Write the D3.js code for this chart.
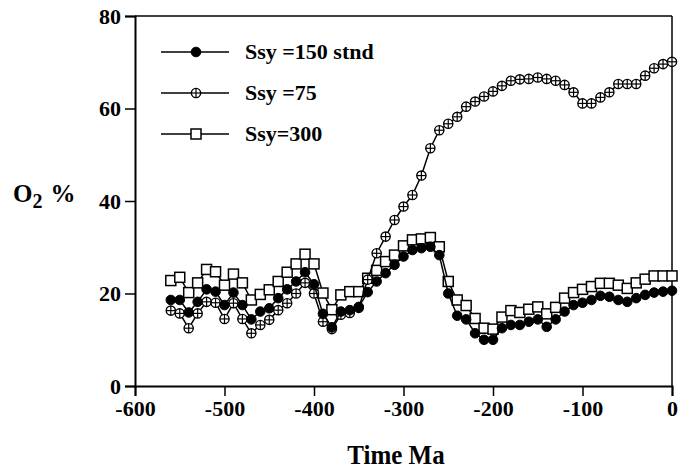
<!DOCTYPE html>
<html>
<head>
<meta charset="utf-8">
<script src="https://cdn.jsdelivr.net/npm/d3@7"></script>
<style>
  html, body { margin: 0; padding: 0; background: #fff; }
  svg { display: block; }
  text { font-family: "Liberation Serif", "Times New Roman", serif; font-weight: bold; fill: #000; }
</style>
</head>
<body>
<svg id="chart" width="689" height="469"></svg>
<script>
// ---- data ----
const time = [-560,-550,-540,-530,-520,-510,-500,-490,-480,-470,-460,-450,-440,-430,-420,-410,-400,-390,-380,-370,-360,
  -350,-340,-330,-320,-310,-300,-290,-280,-270,-260,-250,-240,-230,
  -220,-210,-200,-190,-180,-170,-160,-150,-140,-130,-120,-110,-100,-90,-80,-70,-60,-50,-40,-30,-20,-10,0];

const ssy150 = [18.6,18.6,15.9,18.2,20.9,20.4,17.5,20.2,17.5,14.4,16.1,16.8,19.0,20.9,22.6,24.6,22.0,15.6,12.7,16.1,16.4,
  17.1,20.3,22.6,24.4,26.2,28.0,29.4,29.8,30.1,28.3,20.0,15.2,14.4,
  11.4,10.0,10.0,12.5,13.2,13.2,13.9,14.4,12.8,14.4,16.1,17.5,18.0,18.6,19.5,19.3,18.6,18.2,19.0,19.7,20.2,20.4,20.6];

const ssy75 = [16.3,15.7,12.5,15.7,18.2,18.0,14.5,17.9,14.5,11.4,13.2,14.3,16.4,17.9,20.0,22.3,20.0,13.9,12.3,15.4,15.8,
  16.9,23.0,28.7,32.3,35.9,38.8,41.3,45.5,51.4,55.3,56.7,58.2,60.4,
  61.5,62.6,63.7,64.9,66.0,66.3,66.4,66.7,66.4,66.0,65.1,63.5,61.1,61.1,62.4,63.5,65.3,65.3,65.3,67.1,68.7,69.6,70.1];

const ssy300 = [22.8,23.5,20.2,22.3,25.2,24.7,21.8,24.2,22.3,18.6,19.8,20.8,22.6,24.6,26.4,28.5,26.4,20.1,16.5,19.7,20.4,
  20.4,23.3,25.0,26.9,28.3,30.3,31.6,31.8,32.1,30.1,22.6,18.6,17.4,
  14.6,12.5,12.3,14.9,16.3,15.9,16.6,17.1,15.6,17.0,19.0,20.2,20.9,21.5,22.2,22.2,21.8,21.1,22.3,23.1,23.8,23.8,23.8];

const seriesNames = ["Ssy =150 stnd", "Ssy =75", "Ssy=300"];
const markerTypes = ["filled", "cross", "square"];
const xTicks = [-600,-500,-400,-300,-200,-100,0];
const yTicks = [0,20,40,60,80];
const xTitle = "Time Ma";

// ---- layout ----
const svg = d3.select("#chart");
const x = d3.scaleLinear().domain([-600, 0]).range([135, 672]);
const y = d3.scaleLinear().domain([0, 80]).range([386, 16]);

// frame top/right
svg.append("line").attr("x1", x(-600)).attr("x2", x(0)).attr("y1", y(80)).attr("y2", y(80))
  .attr("stroke", "#000").attr("stroke-width", 1.5);
svg.append("line").attr("x1", x(0)).attr("x2", x(0)).attr("y1", y(80)).attr("y2", y(0))
  .attr("stroke", "#000").attr("stroke-width", 1.5);

// axes
const fmt = d => String(d);
const xAxis = svg.append("g").attr("transform", `translate(0,${y(0)})`)
  .call(d3.axisBottom(x).tickValues(xTicks).tickSize(10).tickPadding(6).tickFormat(fmt));
const yAxis = svg.append("g").attr("transform", `translate(${x(-600)},0)`)
  .call(d3.axisLeft(y).tickValues(yTicks).tickSize(10).tickPadding(4).tickFormat(fmt));
[xAxis, yAxis].forEach(g => {
  g.select(".domain").attr("stroke", "#000").attr("stroke-width", 2);
  g.selectAll(".tick line").attr("stroke", "#000").attr("stroke-width", 1.5);
  g.selectAll("text").style("font-family", '"Liberation Serif", serif').style("font-weight", "bold")
    .style("font-size", "22px").attr("fill", "#000");
});
xAxis.selectAll("text").attr("dy", "0.71em").attr("y", 14);

// titles
svg.append("text").attr("text-anchor", "middle")
  .attr("transform", "translate(396,464) scale(1,1.1)")
  .style("font-size", "25px").text(xTitle);
const yl = svg.append("text").attr("x", 13).attr("y", 202).style("font-size", "25px");
yl.append("tspan").text("O");
yl.append("tspan").attr("dy", 6).style("font-size", "20px").text("2");
yl.append("tspan").attr("dy", -6).attr("dx", 8).text("%");

// series
const seriesData = [ssy150, ssy75, ssy300];
const line = d3.line().x((d, i) => x(time[i])).y(d => y(d));

function drawMarker(g, type, cx, cy) {
  if (type === "square") {
    g.append("rect").attr("x", cx - 5).attr("y", cy - 5).attr("width", 10).attr("height", 10)
      .attr("fill", "#fff").attr("stroke", "#000").attr("stroke-width", 1.5);
  } else if (type === "filled") {
    g.append("circle").attr("cx", cx).attr("cy", cy).attr("r", 4.8)
      .attr("fill", "#000").attr("stroke", "#000").attr("stroke-width", 1);
  } else {
    g.append("circle").attr("cx", cx).attr("cy", cy).attr("r", 4.6)
      .attr("fill", "#fff").attr("stroke", "#000").attr("stroke-width", 1.4);
    g.append("line").attr("x1", cx - 4.6).attr("x2", cx + 4.6).attr("y1", cy).attr("y2", cy)
      .attr("stroke", "#000").attr("stroke-width", 1.2);
    g.append("line").attr("x1", cx).attr("x2", cx).attr("y1", cy - 4.6).attr("y2", cy + 4.6)
      .attr("stroke", "#000").attr("stroke-width", 1.2);
  }
}

// draw order: squares, crossed, filled
[2, 1, 0].forEach(si => {
  const g = svg.append("g");
  g.append("path").datum(seriesData[si]).attr("d", line)
    .attr("fill", "none").attr("stroke", "#000").attr("stroke-width", 1.5);
  seriesData[si].forEach((v, i) => drawMarker(g, markerTypes[si], x(time[i]), y(v)));
});

// legend
const legendY = [52, 93, 134];
seriesNames.forEach((name, i) => {
  const g = svg.append("g");
  g.append("line").attr("x1", 161).attr("x2", 229).attr("y1", legendY[i]).attr("y2", legendY[i])
    .attr("stroke", "#000").attr("stroke-width", 1.5);
  drawMarker(g, markerTypes[i], 196, legendY[i]);
  g.append("text").attr("x", 245).attr("y", legendY[i] + 7).style("font-size", "22px").text(name);
});
</script>
</body>
</html>
